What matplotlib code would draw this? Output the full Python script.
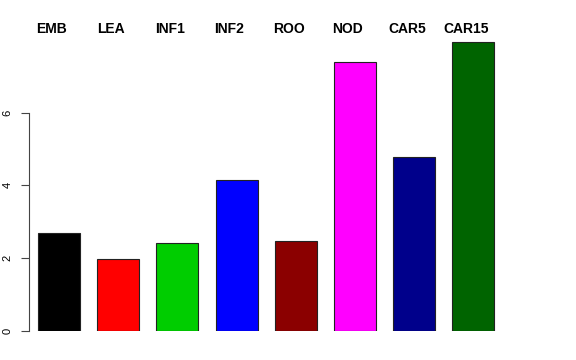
import numpy as np
import matplotlib
matplotlib.use('Agg')
import matplotlib.pyplot as plt

plt.rcParams['font.family'] = ['Liberation Sans', 'DejaVu Sans']

# values
labels = ['EMB', 'LEA', 'INF1', 'INF2', 'ROO', 'NOD', 'CAR5', 'CAR15']
values = [2.68, 1.98, 2.43, 4.15, 2.46, 7.38, 4.77, 7.93]
colors = ['#000000', '#FF0000', '#00CD00', '#0000FF', '#8B0000', '#FF00FF', '#00008B', '#006400']
yticks = [0, 2, 4, 6]


def draw(ax):
    x = np.arange(len(values))
    ax.bar(x, values, width=0.71, color=colors, edgecolor='#222222', linewidth=0.8)

    for xi, lab in zip(x, labels):
        ax.text(xi - 0.12, 8.3, lab, ha='center', va='center',
                fontsize=10, fontweight='bold', clip_on=False)

    ax.set_xlim(-0.507, 8.06)
    ax.set_ylim(0, 8.2)
    ax.set_xticks([])
    ax.set_yticks(yticks)
    ax.set_yticklabels([str(t) for t in yticks], rotation=90, va='center', fontsize=8)
    ax.tick_params(axis='y', length=6, width=0.8, color='#444444', pad=6)

    for s in ['top', 'right', 'bottom']:
        ax.spines[s].set_visible(False)
    ax.spines['left'].set_bounds(0, 6)
    ax.spines['left'].set_color('#444444')
    ax.spines['left'].set_linewidth(0.8)


fig = plt.figure(figsize=(5.76, 3.6), dpi=100)
ax = fig.add_axes([29 / 576, 29 / 360, (536 - 29) / 576, 298.5 / 360])
draw(ax)
fig.savefig('out.png', dpi=100)
